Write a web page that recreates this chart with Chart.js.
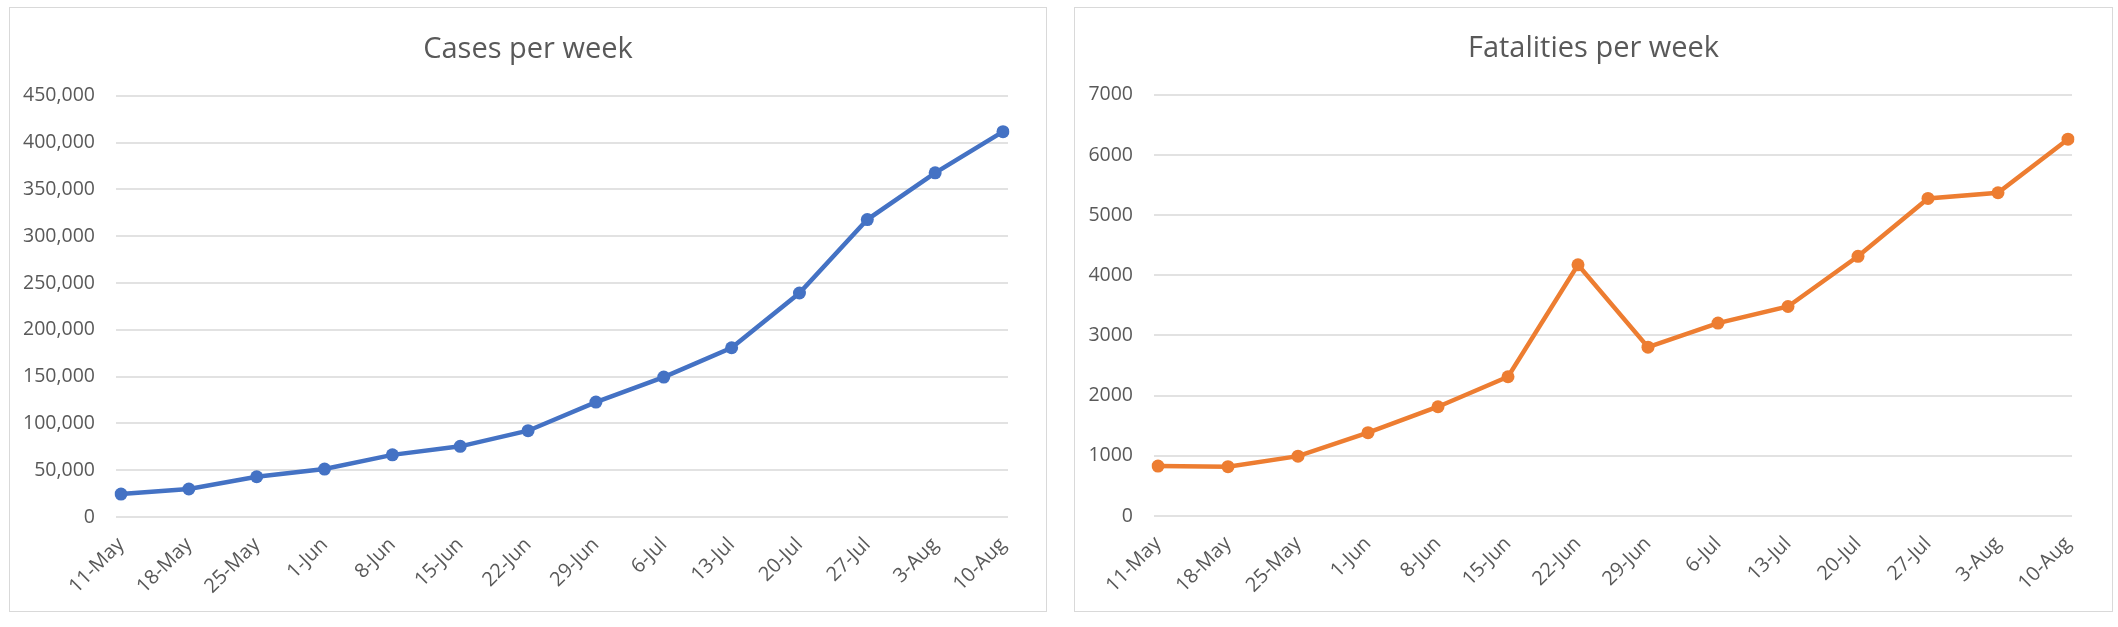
<!DOCTYPE html>
<html>
<head>
<meta charset="utf-8">
<script src="https://cdn.jsdelivr.net/npm/chart.js@4.4.0/dist/chart.umd.min.js"></script>
<style>
  html, body { margin: 0; padding: 0; background: #ffffff; }
  body { width: 2118px; height: 627px; position: relative; overflow: hidden; }
  .panel { position: absolute; box-sizing: border-box; border: 1px solid #D9D9D9; background: #fff; }
  .panel canvas { display: block; }
</style>
</head>
<body>
<div class="panel" id="p1" style="left:9px; top:7px; width:1038px; height:605px;"><canvas id="c1"></canvas></div>
<div class="panel" id="p2" style="left:1074px; top:7px; width:1039px; height:605px;"><canvas id="c2"></canvas></div>
<script>
// ---- Data ----
const weekLabels = ['11-May','18-May','25-May','1-Jun','8-Jun','15-Jun','22-Jun','29-Jun','6-Jul','13-Jul','20-Jul','27-Jul','3-Aug','10-Aug'];
const casesPerWeek = [24500, 29900, 43000, 51200, 66400, 75500, 92200, 122800, 149500, 180800, 239300, 317800, 367700, 411700];
const fatalitiesPerWeek = [830, 820, 995, 1385, 1816, 2314, 4174, 2805, 3206, 3482, 4316, 5278, 5372, 6262];
const casesTitle = 'Cases per week';
const fatalitiesTitle = 'Fatalities per week';
const casesAxisMax = 450000, casesAxisStep = 50000;
const fatalitiesAxisMax = 7000, fatalitiesAxisStep = 1000;

// ---- Styling ----
const TEXT = '#595959';
const GRID = '#D9D9D9';
const FONT = "'Open Sans', 'Noto Sans', sans-serif";

// Horizontal gridlines that extend slightly beyond the first/last point (Excel look)
const extendedGrid = {
  id: 'extendedGrid',
  beforeDatasetsDraw(chart, args, opts) {
    const ys = chart.scales.y;
    const {left, right} = chart.chartArea;
    const ext = opts.ext || 5;
    const ctx = chart.ctx;
    ctx.save();
    ctx.strokeStyle = GRID;
    ctx.lineWidth = 1.3;
    ys.ticks.forEach(t => {
      const y = Math.round(ys.getPixelForValue(t.value));
      ctx.beginPath();
      ctx.moveTo(left - ext, y);
      ctx.lineTo(right + ext, y);
      ctx.stroke();
    });
    ctx.restore();
  }
};

function makeChart(id, title, values, color, yMax, yStep, fmt, geom) {
  return new Chart(document.getElementById(id), {
    type: 'line',
    data: {
      labels: weekLabels,
      datasets: [{
        data: values,
        borderColor: color,
        backgroundColor: color,
        borderWidth: 4.5,
        pointRadius: 6.5,
        pointHoverRadius: 6.5,
        pointBorderWidth: 0,
        pointBackgroundColor: color,
        tension: 0,
        fill: false
      }]
    },
    options: {
      responsive: true,
      maintainAspectRatio: false,
      animation: false,
      devicePixelRatio: 1,
      layout: { padding: 0 },
      plugins: {
        legend: { display: false },
        tooltip: { enabled: false },
        title: {
          display: true,
          text: title,
          color: TEXT,
          font: { family: FONT, size: 29, weight: 'normal' },
          padding: { top: geom.titleTop, bottom: geom.titleBottom }
        },
        extendedGrid: { ext: geom.ext }
      },
      scales: {
        x: {
          offset: false,
          grid: { display: false },
          border: { display: false },
          ticks: {
            color: TEXT,
            font: { family: FONT, size: 20 },
            maxRotation: 45,
            minRotation: 45,
            autoSkip: false,
            padding: geom.xPad
          },
          afterFit(scale) { scale.height = geom.xHeight; }
        },
        y: {
          min: 0,
          max: yMax,
          grid: { display: true, drawOnChartArea: false, drawTicks: false },
          border: { display: false },
          ticks: {
            stepSize: yStep,
            color: TEXT,
            font: { family: FONT, size: 19.5 },
            padding: geom.yPad,
            callback: fmt
          },
          afterFit(scale) { scale.width = geom.yWidth; }
        },
        // empty right-hand spacer axis so the title stays centred on the whole panel
        spacer: {
          type: 'linear',
          position: 'right',
          display: true,
          grid: { display: false },
          border: { display: false },
          ticks: { display: false },
          afterFit(scale) { scale.width = geom.padRight; }
        }
      }
    },
    plugins: [extendedGrid]
  });
}

makeChart('c1', casesTitle, casesPerWeek, '#4472C4', casesAxisMax, casesAxisStep,
  v => Number(v).toLocaleString('en-US'),
  { padRight: 43, titleTop: 24, titleBottom: 29, xHeight: 94, xPad: 8, yPad: 26, yWidth: 111, ext: 5 });

makeChart('c2', fatalitiesTitle, fatalitiesPerWeek, '#ED7D31', fatalitiesAxisMax, fatalitiesAxisStep,
  v => String(v),
  { padRight: 44, titleTop: 23, titleBottom: 29, xHeight: 95, xPad: 8, yPad: 25, yWidth: 83, ext: 4 });
</script>
</body>
</html>
